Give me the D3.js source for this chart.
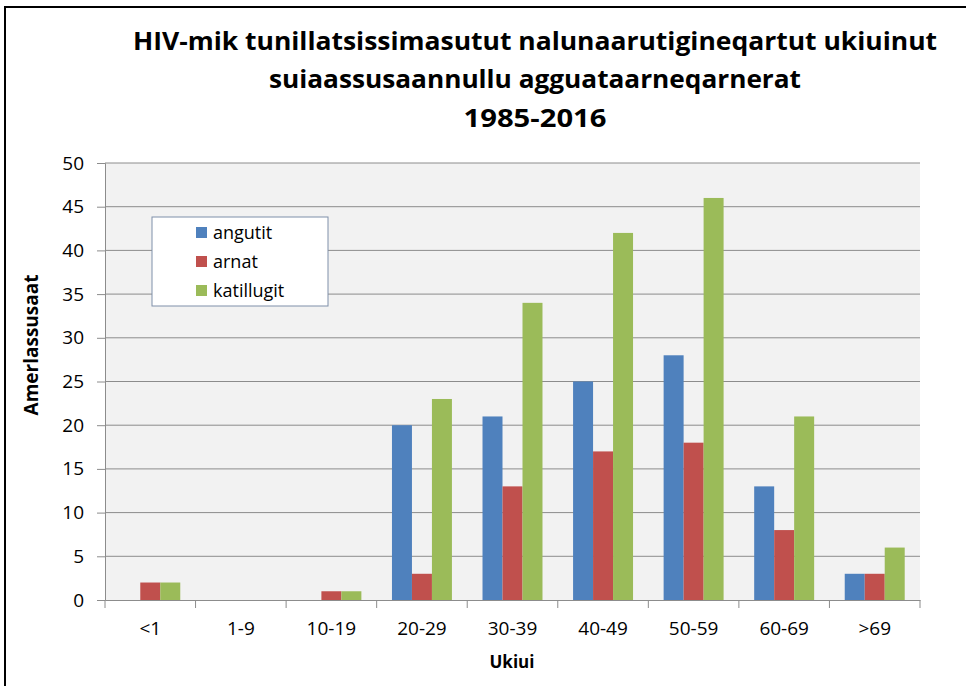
<!DOCTYPE html>
<html lang="kl">
<head>
<meta charset="UTF-8">
<title>HIV-mik tunillatsissimasutut nalunaarutigineqartut</title>
<script src="https://d3js.org/d3.v7.min.js"></script>
<style>
  body { margin: 0; background: #fff; }
  svg { display: block; font-family: "Open Sans", "Noto Sans", sans-serif; }
</style>
</head>
<body>
<svg id="chart" width="966" height="686"></svg>
<script>
const categories = ["<1", "1-9", "10-19", "20-29", "30-39", "40-49", "50-59", "60-69", ">69"];
const seriesNames = ["angutit", "arnat", "katillugit"];
const angutit    = [0, 0, 0, 20, 21, 25, 28, 13, 3];
const arnat      = [2, 0, 1, 3, 13, 17, 18, 8, 3];
const katillugit = [2, 0, 1, 23, 34, 42, 46, 21, 6];
const colors = ["#4f81bd", "#c0504d", "#9bbb59"];
const yTicks = [0, 5, 10, 15, 20, 25, 30, 35, 40, 45, 50];
const titleLines = [
  "HIV-mik tunillatsissimasutut nalunaarutigineqartut ukiuinut",
  "suiaassusaannullu agguataarneqarnerat",
  "1985-2016"
];

const svg = d3.select("#chart");
const values = [angutit, arnat, katillugit];

// outer frame (cropped on right/bottom)
svg.append("rect")
  .attr("x", 5).attr("y", 7).attr("width", 980).attr("height", 700)
  .attr("fill", "none").attr("stroke", "#000").attr("stroke-width", 2);

const plot = { left: 105, right: 920, top: 163, bottom: 600 };

const x0 = d3.scaleBand().domain(categories).range([plot.left, plot.right]).paddingInner(0).paddingOuter(0);
const x1 = d3.scaleBand().domain(seriesNames).range([0, x0.bandwidth()]).paddingInner(0).paddingOuter(0.765);
const y = d3.scaleLinear().domain([0, 50]).range([plot.bottom, plot.top]);

// plot background
svg.append("rect")
  .attr("x", plot.left).attr("y", plot.top)
  .attr("width", plot.right - plot.left).attr("height", plot.bottom - plot.top)
  .attr("fill", "#f2f2f2");

// gridlines
svg.append("g")
  .selectAll("line")
  .data(yTicks.filter(d => d > 0))
  .join("line")
  .attr("x1", plot.left).attr("x2", plot.right)
  .attr("y1", d => y(d)).attr("y2", d => y(d))
  .attr("stroke", "#8c8c8c").attr("stroke-width", 1);

// bars
const groups = svg.append("g")
  .selectAll("g")
  .data(categories)
  .join("g")
  .attr("transform", d => `translate(${x0(d)},0)`);

groups.selectAll("rect")
  .data((c, i) => seriesNames.map((s, j) => ({ s, v: values[j][i], j })))
  .join("rect")
  .attr("x", d => x1(d.s))
  .attr("width", x1.bandwidth())
  .attr("y", d => y(d.v))
  .attr("height", d => y(0) - y(d.v))
  .attr("fill", d => colors[d.j]);

// axes
const yAxis = svg.append("g")
  .attr("transform", `translate(${plot.left},0)`)
  .call(d3.axisLeft(y).tickValues(yTicks).tickSize(8).tickPadding(13));
const xAxis = svg.append("g")
  .attr("transform", `translate(0,${plot.bottom})`)
  .call(d3.axisBottom(x0).tickSize(0).tickPadding(18));
// x ticks at band boundaries
svg.append("g")
  .selectAll("line")
  .data(categories.concat(["end"]))
  .join("line")
  .attr("x1", (d, i) => i < categories.length ? x0(d) : plot.right)
  .attr("x2", (d, i) => i < categories.length ? x0(d) : plot.right)
  .attr("y1", plot.bottom).attr("y2", plot.bottom + 8)
  .attr("stroke", "#8c8c8c");

[yAxis, xAxis].forEach(a => {
  a.attr("font-size", 19).attr("font-family", "\"Open Sans\", sans-serif");
  a.selectAll(".domain").attr("stroke", "#8c8c8c");
  a.selectAll(".tick line").attr("stroke", "#8c8c8c");
  a.selectAll(".tick text").attr("fill", "#000");
});
xAxis.selectAll(".tick text").attr("dy", "0.9em");

// title
const titleX = 535;
const titleY = [50, 88, 127];
const titleLen = [804, 532, 143];
svg.append("g")
  .selectAll("text")
  .data(titleLines)
  .join("text")
  .attr("x", titleX)
  .attr("y", (d, i) => titleY[i])
  .attr("text-anchor", "middle")
  .attr("font-size", 25)
  .attr("font-weight", "bold")
  .attr("textLength", (d, i) => titleLen[i])
  .attr("lengthAdjust", "spacingAndGlyphs")
  .text(d => d);

// axis titles
svg.append("text")
  .attr("transform", "translate(38,345) rotate(-90)")
  .attr("text-anchor", "middle")
  .attr("font-size", 19)
  .attr("font-weight", "bold")
  .text("Amerlassusaat");

svg.append("text")
  .attr("x", 512).attr("y", 668)
  .attr("text-anchor", "middle")
  .attr("font-size", 17)
  .attr("font-weight", "bold")
  .text("Ukiui");

// legend
const legend = svg.append("g");
legend.append("rect")
  .attr("x", 152).attr("y", 217).attr("width", 176).attr("height", 89)
  .attr("fill", "#fff").attr("stroke", "#7f8fa9").attr("stroke-width", 1);
const items = legend.selectAll("g")
  .data(seriesNames)
  .join("g")
  .attr("transform", (d, i) => `translate(196,${233 + i * 29})`);
items.append("rect")
  .attr("x", 0).attr("y", -6).attr("width", 11).attr("height", 11)
  .attr("fill", (d, i) => colors[i]);
items.append("text")
  .attr("x", 17).attr("y", 0).attr("dy", "0.35em")
  .attr("font-size", 18)
  .text(d => d);
</script>
</body>
</html>
